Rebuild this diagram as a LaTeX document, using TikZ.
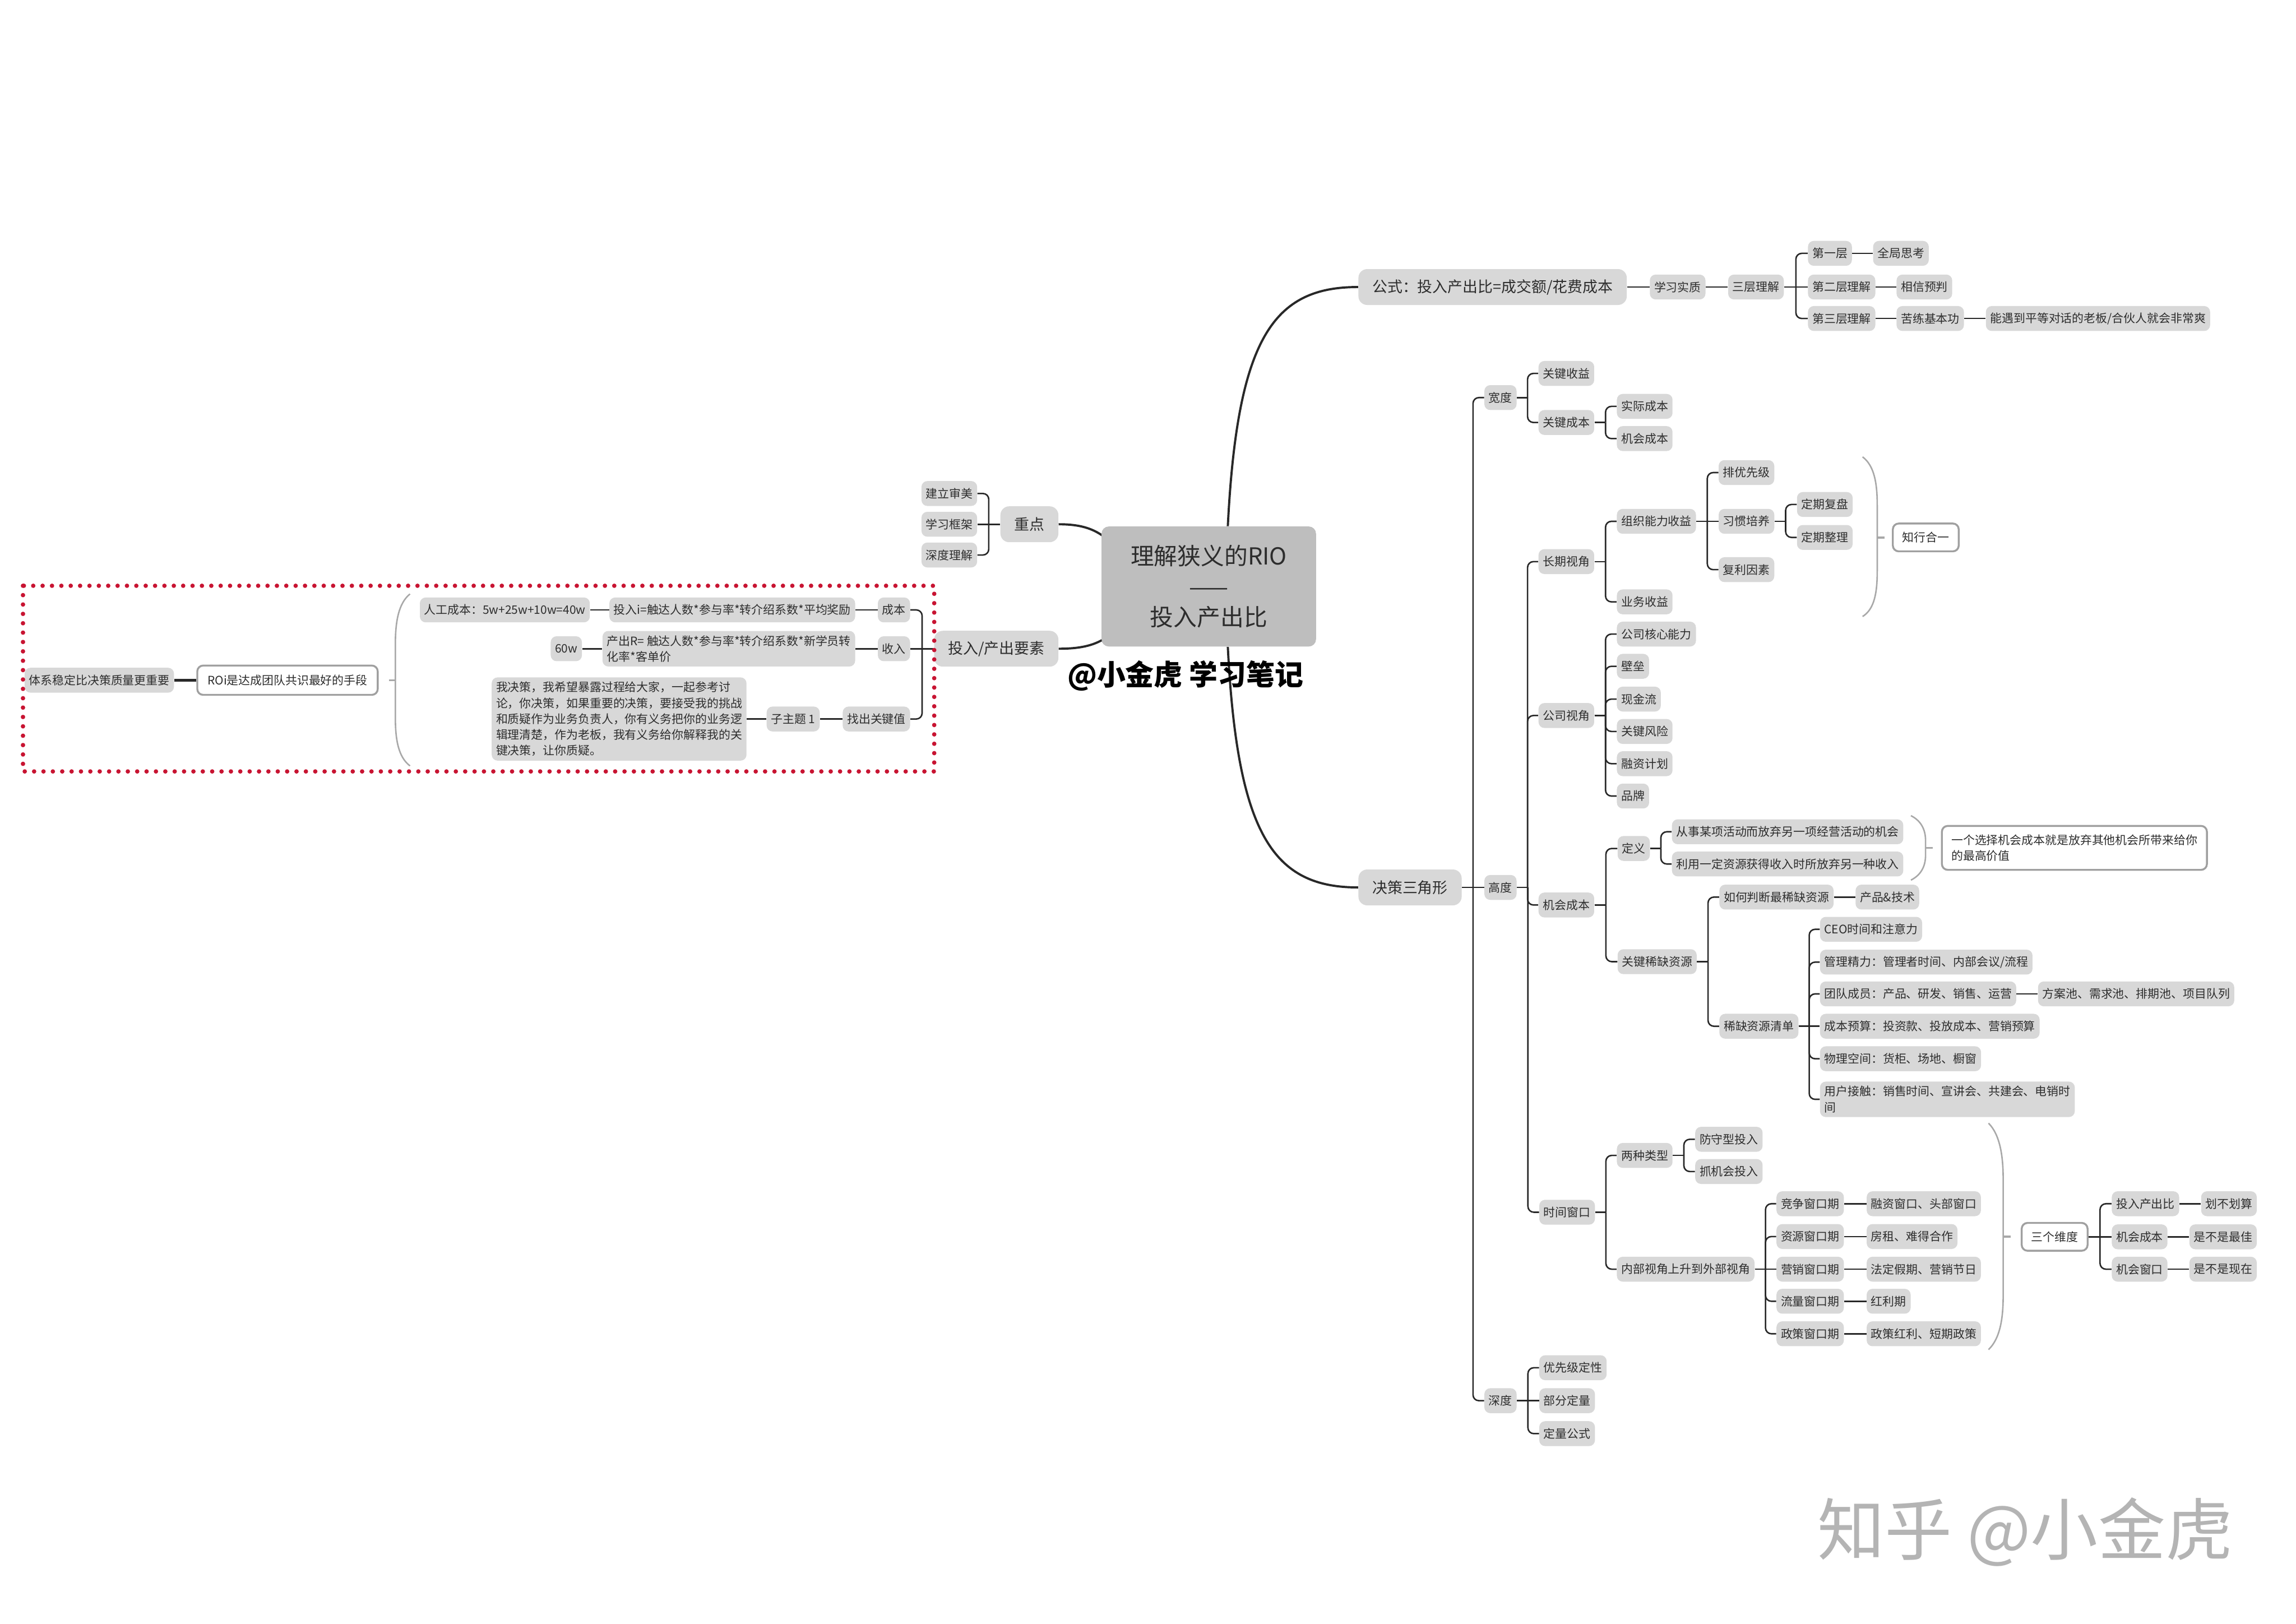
\documentclass[tikz,border=0pt]{standalone}
\usepackage{fontspec}
\setmainfont{Noto Sans CJK SC}
\usetikzlibrary{calc,backgrounds}
\definecolor{nfill}{RGB}{216,216,216}
\definecolor{cfill}{RGB}{190,190,190}
\definecolor{txt}{RGB}{45,45,45}
\definecolor{lnk}{RGB}{40,40,40}
\definecolor{wbd}{RGB}{160,160,160}
\definecolor{brc}{RGB}{168,168,168}
\definecolor{reddot}{RGB}{200,20,50}
\definecolor{wmark}{RGB}{180,180,180}
\newcommand{\linkR}[2]{%
 \path ($(#1.east)!0.5!(#2.west)$) coordinate (mtmp);
 \draw[conn] (#1.east) -- (mtmp |- #1.east);
 \draw[conn,rounded corners=4pt] (mtmp |- #1.east) |- (#2.west);}
\newcommand{\linkL}[2]{%
 \path ($(#1.west)!0.5!(#2.east)$) coordinate (mtmp);
 \draw[conn] (#1.west) -- (mtmp |- #1.west);
 \draw[conn,rounded corners=4pt] (mtmp |- #1.west) |- (#2.east);}
\newcommand{\linkS}[2]{\draw[conn] (#1.east) -- (#2.west);}
\newcommand{\linkSL}[2]{\draw[conn] (#1.west) -- (#2.east);}
\tikzset{
 conn/.style={draw=lnk, line width=1pt},
 mainc/.style={draw=lnk, line width=1.5pt},
 base/.style={rounded corners=4pt, inner xsep=3pt, inner ysep=3pt, text=txt, font=\fontsize{8}{10.8}\selectfont, align=left},
 sn/.style={base, fill=nfill, minimum height=17pt},
 snw/.style={sn, anchor=west},
 sne/.style={sn, anchor=east},
 wn/.style={base, fill=white, draw=wbd, line width=1.3pt, inner xsep=6.5pt, minimum height=19pt, anchor=west},
 ln/.style={rounded corners=6pt, fill=nfill, text=txt, inner xsep=9.5pt, minimum height=24.5pt, font=\fontsize{10.3}{12.5}\selectfont},
 rootn/.style={rounded corners=5pt, fill=cfill, text=txt, minimum width=146.5pt, minimum height=82pt, align=center, font=\fontsize{16}{21}\selectfont},
 bracel/.style={draw=brc, line width=1pt},
 reddots/.style={draw=reddot, line width=3pt, dash pattern=on 0pt off 6.4pt, line cap=round},
}
\begin{document}
\begin{tikzpicture}[x=1pt,y=-1pt]
\useasboundingbox (0,0) rectangle (1568,1109);
% root
\node[rootn] (root) at (825.5,400.5) {理解狭义的RIO\\——\\投入产出比};
\node[font=\fontsize{19.5}{21}\selectfont\bfseries, text=black] (sig) at (809.5,461.5) {@小金虎 学习笔记};
% ---------- left side
\node[ln, anchor=east] (zd) at (723,358) {重点};
\node[sne] (jlsm) at (667.5,337) {建立审美};
\node[sne] (xxkj) at (667.5,358) {学习框架};
\node[sne] (sdlj) at (667.5,379) {深度理解};
\node[ln, anchor=east] (trcc) at (723,443) {投入/产出要素};
\node[sne] (cb) at (621.7,416.5) {成本};
\node[sne] (sr) at (621.7,443) {收入};
\node[sne] (zcgj) at (621.7,491) {找出关键值};
\node[sne] (tri) at (584.2,416.5) {投入i=触达人数*参与率*转介绍系数*平均奖励};
\node[sne] (rgcb) at (403,416.5) {人工成本：5w+25w+10w=40w};
\node[sne] (ccr) at (584.2,443) {产出R= 触达人数*参与率*转介绍系数*新学员转\\化率*客单价};
\node[sne] (w60) at (397.6,443) {60w};
\node[sne] (zzt) at (560,491) {子主题 1};
\node[sne] (long) at (510,491) {我决策，我希望暴露过程给大家，一起参考讨\\论，你决策，如果重要的决策，要接受我的挑战\\和质疑作为业务负责人，你有义务把你的业务逻\\辑理清楚，作为老板，我有义务给你解释我的关\\键决策，让你质疑。};
\node[wn, anchor=east, inner xsep=7pt, minimum height=20pt] (roi) at (258.6,464.5) {ROi是达成团队共识最好的手段};
\node[sne] (txwd) at (119,464.5) {体系稳定比决策质量更重要};
% ---------- formula branch
\node[ln, anchor=west] (gs) at (927.5,196) {公式：投入产出比=成交额/花费成本};
\node[snw] (xxsz) at (1126.5,196) {学习实质};
\node[snw] (scl) at (1180,196) {三层理解};
\node[snw] (d1) at (1234.5,173) {第一层};
\node[snw] (qj) at (1279,173) {全局思考};
\node[snw] (d2) at (1234.5,196) {第二层理解};
\node[snw] (xx) at (1295,196) {相信预判};
\node[snw] (d3) at (1234.5,217.5) {第三层理解};
\node[snw] (kl) at (1295,217.5) {苦练基本功};
\node[snw] (ny) at (1356,217.5) {能遇到平等对话的老板/合伙人就会非常爽};
% ---------- decision triangle
\node[ln, anchor=west] (jc) at (927.5,606) {决策三角形};
\node[snw] (kd) at (1013.5,271.5) {宽度};
\node[snw] (gd) at (1013.5,606) {高度};
\node[snw] (sd) at (1013.5,956.5) {深度};
\node[snw] (gjsy) at (1050.5,255) {关键收益};
\node[snw] (gjcb) at (1050.5,288.5) {关键成本};
\node[snw] (sjcb) at (1104,277.5) {实际成本};
\node[snw] (jhcb) at (1104,299.5) {机会成本};
\node[snw] (cqsj) at (1050.5,383.5) {长期视角};
\node[snw] (zznl) at (1104,356) {组织能力收益};
\node[snw] (ywsy) at (1104,411) {业务收益};
\node[snw] (pyx) at (1173.5,322.7) {排优先级};
\node[snw] (xgpy) at (1173.5,356) {习惯培养};
\node[snw] (flys) at (1173.5,389) {复利因素};
\node[snw] (dqfp) at (1227,344.5) {定期复盘};
\node[snw] (dqzl) at (1227,367) {定期整理};
\node[wn] (zxhy) at (1292,367) {知行合一};
\node[snw] (gssj) at (1050.5,488.6) {公司视角};
\node[snw] (gshx) at (1104,433) {公司核心能力};
\node[snw] (bl) at (1104,455) {壁垒};
\node[snw] (xjl) at (1104,477.4) {现金流};
\node[snw] (gjfx) at (1104,499.5) {关键风险};
\node[snw] (rzjh) at (1104,521.5) {融资计划};
\node[snw] (pp) at (1104,543.6) {品牌};
\node[snw] (jhcb2) at (1050.5,618) {机会成本};
\node[snw] (dy) at (1104.5,579.4) {定义};
\node[snw] (cs) at (1141.6,568) {从事某项活动而放弃另一项经营活动的机会};
\node[snw] (ly) at (1141.6,590) {利用一定资源获得收入时所放弃另一种收入};
\node[wn, minimum height=30pt] (yg) at (1325.5,579) {一个选择机会成本就是放弃其他机会所带来给你\\的最高价值};
\node[snw] (gjxq) at (1104.5,656.7) {关键稀缺资源};
\node[snw] (rhpd) at (1174,612.6) {如何判断最稀缺资源};
\node[snw] (cpjs) at (1267,612.6) {产品\&技术};
\node[snw] (xqqd) at (1174,700.8) {稀缺资源清单};
\node[snw] (ceo) at (1242.7,634.6) {CEO时间和注意力};
\node[snw] (gljl) at (1242.7,657) {管理精力：管理者时间、内部会议/流程};
\node[snw] (tdcy) at (1242.7,678.7) {团队成员：产品、研发、销售、运营};
\node[snw] (fac) at (1391.6,678.7) {方案池、需求池、排期池、项目队列};
\node[snw] (cbys) at (1242.7,700.8) {成本预算：投资款、投放成本、营销预算};
\node[snw] (wlkj) at (1242.7,723) {物理空间：货柜、场地、橱窗};
\node[snw] (yhjc) at (1242.7,750.7) {用户接触：销售时间、宣讲会、共建会、电销时\\间};
\node[snw] (sjck) at (1051,827.8) {时间窗口};
\node[snw] (lzlx) at (1104,789) {两种类型};
\node[snw] (fsx) at (1157.5,778) {防守型投入};
\node[snw] (zjh) at (1157.5,800) {抓机会投入};
\node[snw] (nbsj) at (1104,866.7) {内部视角上升到外部视角};
\node[snw] (jz) at (1213,822) {竞争窗口期};
\node[snw] (jz2) at (1274.6,822) {融资窗口、头部窗口};
\node[snw] (zy) at (1213,844.4) {资源窗口期};
\node[snw] (zy2) at (1274.6,844.4) {房租、难得合作};
\node[snw] (yx) at (1213,866.7) {营销窗口期};
\node[snw] (yx2) at (1274.6,866.7) {法定假期、营销节日};
\node[snw] (ll) at (1213,888.6) {流量窗口期};
\node[snw] (ll2) at (1274.6,888.6) {红利期};
\node[snw] (zc) at (1213,910.8) {政策窗口期};
\node[snw] (zc2) at (1274.6,910.8) {政策红利、短期政策};
\node[wn] (sgwd) at (1380,844.6) {三个维度};
\node[snw] (tr) at (1442,822) {投入产出比};
\node[snw] (hbhs) at (1503,822) {划不划算};
\node[snw] (jhcb3) at (1442,844.6) {机会成本};
\node[snw] (sbszj) at (1495,844.6) {是不是最佳};
\node[snw] (jhck) at (1442,866.7) {机会窗口};
\node[snw] (sbsxz) at (1495,866.7) {是不是现在};
\node[snw] (yxj) at (1051,934) {优先级定性};
\node[snw] (bfdl) at (1051,956.5) {部分定量};
\node[snw] (dlgs) at (1051,979) {定量公式};
% watermark
\node[font=\fontsize{46}{48}\selectfont, text=wmark] (zhihu) at (1383,1046) {知乎 @小金虎};
% brace tick coordinates
\coordinate (bl0) at (270,464.5);
\coordinate (b1) at (1282,367);
\coordinate (b2) at (1315,579);
\coordinate (b3) at (1368,844.5);
\begin{pgfonlayer}{background}
\fill[white] (0,0) rectangle (1568,1109);
% main curves
\draw[mainc] ([xshift=13pt]root.north) .. controls (845,230) and (870,196) .. (gs.west);
\draw[mainc] ([xshift=13pt]root.south) .. controls (845,571) and (870,606) .. (jc.west);
\draw[mainc] (zd.east) .. controls (740,358) and (748,362) .. ($(root.north west)+(3,8)$);
\draw[mainc] (trcc.east) .. controls (740,443) and (748,440) .. ($(root.south west)+(3,-6)$);
% left links
\linkL{zd}{jlsm} \linkSL{zd}{xxkj} \linkL{zd}{sdlj}
\linkL{trcc}{cb} \linkSL{trcc}{sr} \linkL{trcc}{zcgj}
\linkSL{cb}{tri} \linkSL{tri}{rgcb} \linkSL{sr}{ccr} \linkSL{ccr}{w60}
\linkSL{zcgj}{zzt} \linkSL{zzt}{long}
\draw[conn, line width=1.6pt] (roi.west) -- (txwd.east);
% formula links
\linkS{gs}{xxsz} \linkS{xxsz}{scl}
\linkR{scl}{d1} \linkS{scl}{d2} \linkR{scl}{d3}
\linkS{d1}{qj} \linkS{d2}{xx} \linkS{d3}{kl} \linkS{kl}{ny}
% decision links
\linkR{jc}{kd} \linkS{jc}{gd} \linkR{jc}{sd}
\linkR{kd}{gjsy} \linkR{kd}{gjcb}
\linkR{gjcb}{sjcb} \linkR{gjcb}{jhcb}
\linkR{gd}{cqsj} \linkR{gd}{gssj} \linkR{gd}{jhcb2} \linkR{gd}{sjck}
\linkR{cqsj}{zznl} \linkR{cqsj}{ywsy}
\linkR{zznl}{pyx} \linkS{zznl}{xgpy} \linkR{zznl}{flys}
\linkR{xgpy}{dqfp} \linkR{xgpy}{dqzl}
\linkR{gssj}{gshx} \linkR{gssj}{bl} \linkR{gssj}{xjl} \linkR{gssj}{gjfx} \linkR{gssj}{rzjh} \linkR{gssj}{pp}
\linkR{jhcb2}{dy} \linkR{jhcb2}{gjxq}
\linkR{dy}{cs} \linkR{dy}{ly}
\linkR{gjxq}{rhpd} \linkR{gjxq}{xqqd}
\linkS{rhpd}{cpjs}
\linkR{xqqd}{ceo} \linkR{xqqd}{gljl} \linkR{xqqd}{tdcy} \linkS{xqqd}{cbys} \linkR{xqqd}{wlkj} \linkR{xqqd}{yhjc}
\linkS{tdcy}{fac}
\linkR{sjck}{lzlx} \linkR{sjck}{nbsj}
\linkR{lzlx}{fsx} \linkR{lzlx}{zjh}
\linkR{nbsj}{jz} \linkR{nbsj}{zy} \linkS{nbsj}{yx} \linkR{nbsj}{ll} \linkR{nbsj}{zc}
\linkS{jz}{jz2} \linkS{zy}{zy2} \linkS{yx}{yx2} \linkS{ll}{ll2} \linkS{zc}{zc2}
\linkR{sgwd}{tr} \linkS{sgwd}{jhcb3} \linkR{sgwd}{jhck}
\linkS{tr}{hbhs} \linkS{jhcb3}{sbszj} \linkS{jhck}{sbsxz}
\linkR{sd}{yxj} \linkS{sd}{bfdl} \linkR{sd}{dlgs}
% summary braces
\draw[bracel] (280,405.6) .. controls (272,412) and (270,425) .. (270,440) -- (270,490) .. controls (270,505) and (272,517) .. (280,523);
\draw[bracel, line width=1.4pt] (bl0) -- ++(-4.5,0);
\draw[bracel] (1272,312) .. controls (1280,318) and (1282,330) .. (1282,345) -- (1282,390) .. controls (1282,405) and (1280,416) .. (1272,421);
\draw[bracel, line width=1.4pt] (b1) -- ++(5,0);
\draw[bracel] (1305,557) .. controls (1313,561) and (1315,568) .. (1315,574) -- (1315,584) .. controls (1315,590) and (1313,597) .. (1305,601);
\draw[bracel, line width=1.4pt] (b2) -- ++(5,0);
\draw[bracel] (1358,767) .. controls (1366,775) and (1368,790) .. (1368,805) -- (1368,885) .. controls (1368,900) and (1366,914) .. (1358,921.6);
\draw[bracel, line width=1.4pt] (b3) -- ++(5,0);
\end{pgfonlayer}
% red dotted frame
\draw[reddots] (15.7,400) rectangle (638,526.8);
\end{tikzpicture}
\end{document}
